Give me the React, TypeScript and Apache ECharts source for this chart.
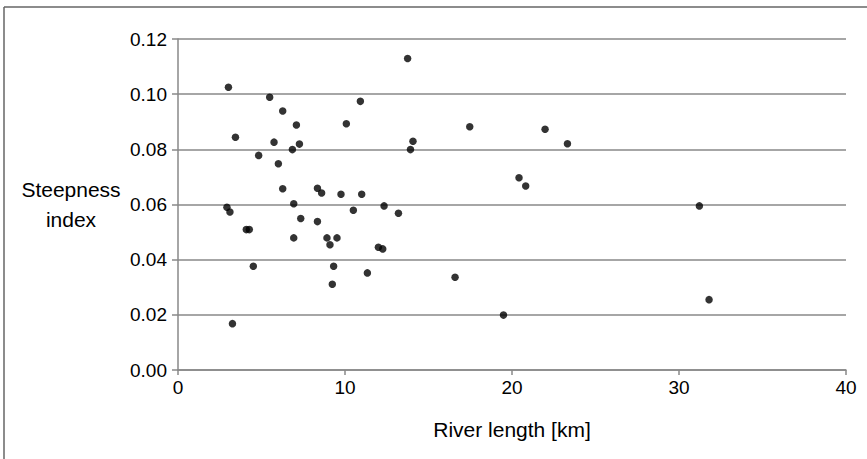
import React, { useEffect, useRef } from "react";
import * as echarts from "echarts";

const riverLength = [
  3.02, 5.49, 6.27, 7.09, 10.92, 10.08, 3.44, 5.75, 7.27, 6.85, 4.83, 6.01,
  6.27, 8.35, 8.6, 9.76, 11.0, 2.93, 3.11, 6.93, 7.35, 8.35, 10.5, 12.34,
  13.2, 4.09, 4.27, 6.93, 8.92, 9.52, 9.1, 12.0, 12.26, 4.51, 9.32, 11.34,
  9.24, 3.26, 13.75, 17.47, 21.98, 23.32, 14.07, 13.92, 20.42, 20.82, 16.59,
  19.49, 31.22, 31.8,
];
const steepnessIndex = [
  0.1025, 0.0989, 0.0939, 0.0888, 0.0974, 0.0893, 0.0844, 0.0826, 0.0819,
  0.0799, 0.0778, 0.0748, 0.0657, 0.0659, 0.0642, 0.0637, 0.0637, 0.059,
  0.0573, 0.0603, 0.0549, 0.0538, 0.0579, 0.0595, 0.0568, 0.0509, 0.0509,
  0.0479, 0.0479, 0.0479, 0.0454, 0.0445, 0.0439, 0.0376, 0.0376, 0.0352,
  0.0311, 0.0168, 0.1129, 0.0882, 0.0873, 0.082, 0.0829, 0.0799, 0.0697,
  0.0667, 0.0336, 0.0199, 0.0595, 0.0255,
];
const xTicks = { min: 0, max: 40, interval: 10 };
const yTicks = { min: 0, max: 0.12, interval: 0.02 };
const xTitle = "River length [km]";
const yTitle = "Steepness\nindex";

export default function App() {
  const ref = useRef<HTMLDivElement>(null);
  useEffect(() => {
    if (!ref.current) return;
    const chart = echarts.init(ref.current, null, { renderer: "svg" });
    const font = "Liberation Sans, Arial, sans-serif";
    const gridColor = "#888888";
    chart.setOption({
      animation: false,
      backgroundColor: "#ffffff",
      grid: { left: 178, top: 39, width: 668, height: 331, containLabel: false },
      xAxis: {
        type: "value",
        min: xTicks.min,
        max: xTicks.max,
        interval: xTicks.interval,
        name: xTitle,
        nameLocation: "middle",
        nameGap: 49,
        nameTextStyle: { fontFamily: font, fontSize: 21, color: "#000" },
        axisLine: { show: true, lineStyle: { color: gridColor, width: 1.5 } },
        axisTick: { show: true, length: 5, lineStyle: { color: gridColor, width: 1.5 } },
        axisLabel: {
          fontFamily: font,
          fontSize: 19,
          color: "#000",
          margin: 8,
          formatter: (v: number) => String(v),
        },
        splitLine: { show: false },
      },
      yAxis: {
        type: "value",
        min: yTicks.min,
        max: yTicks.max,
        interval: yTicks.interval,
        name: yTitle,
        nameLocation: "middle",
        nameRotate: 0,
        nameGap: 107,
        nameTextStyle: {
          fontFamily: font,
          fontSize: 21,
          color: "#000",
          align: "center",
          verticalAlign: "middle",
          lineHeight: 30,
        },
        axisLine: { show: true, lineStyle: { color: gridColor, width: 1.5 } },
        axisTick: { show: true, length: 6, lineStyle: { color: gridColor, width: 1.5 } },
        axisLabel: {
          fontFamily: font,
          fontSize: 19,
          color: "#000",
          margin: 11,
          formatter: (v: number) => v.toFixed(2),
        },
        splitLine: { show: true, lineStyle: { color: gridColor, width: 1.5 } },
      },
      graphic: [
        {
          type: "line",
          shape: { x1: 4, y1: 7, x2: 867, y2: 7 },
          style: { stroke: "#666", lineWidth: 1.5 },
        },
        {
          type: "line",
          shape: { x1: 4, y1: 7, x2: 4, y2: 459 },
          style: { stroke: "#666", lineWidth: 1.5 },
        },
      ],
      series: [
        {
          type: "scatter",
          symbol: "circle",
          symbolSize: 7.5,
          itemStyle: { color: "#000000" },
          data: riverLength.map((x, i) => [x, steepnessIndex[i]]),
        },
      ],
    });
    return () => chart.dispose();
  }, []);
  return (
    <div
      ref={ref}
      style={{ position: "fixed", left: 0, top: 0, width: 867, height: 459 }}
    />
  );
}
